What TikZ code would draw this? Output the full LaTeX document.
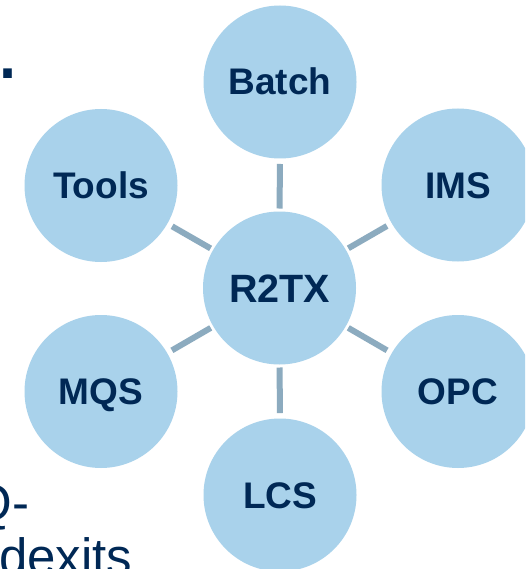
\documentclass[tikz,border=0pt]{standalone}
\usepackage{fontspec}
\setmainfont{Liberation Sans}
\definecolor{bub}{HTML}{A9D2EB}
\definecolor{lnk}{HTML}{8CABBF}
\definecolor{ink}{HTML}{002855}
\tikzset{
  bubble/.style={circle,fill=bub,draw=none,inner sep=0pt,outer sep=0pt,minimum size=153pt,text=ink,text height=26pt,text depth=0pt,font=\fontsize{37}{37}\selectfont\bfseries},
  hub/.style={bubble,text height=28pt,font=\fontsize{39.5}{39.5}\selectfont\bfseries},
  spoke/.style={draw=lnk,line width=6pt,shorten <=3pt,shorten >=5.5pt},
  body/.style={inner sep=0pt,outer sep=0pt,anchor=base west,text=ink,font=\fontsize{51}{51}\selectfont}
}
\begin{document}
\begin{tikzpicture}[x=1pt,y=-1pt]
\useasboundingbox (0,0) rectangle (525,569);
\clip (0,0) rectangle (525,569);
\fill[white] (0,0) rectangle (525,569);
\node[hub] (c) at (279.5,288) {R2TX};
\node[bubble] (batch) at (280,82) {Batch};
\node[bubble] (tools) at (101,185.5) {Tools};
\node[bubble] (ims) at (458,185) {IMS};
\node[bubble] (opc) at (458,391.5) {OPC};
\node[bubble] (mqs) at (101,391.5) {MQS};
\node[bubble] (lcs) at (280,495) {LCS};
\foreach \t in {batch,tools,ims,opc,mqs,lcs} \draw[spoke] (c) -- (\t);
\node[body] (q) at (-27,520) {Q-};
\node[body] (d) at (-1,574) {dexits};
\node[body,font=\fontsize{90}{90}\selectfont] (dot) at (-5,79) {.};
\end{tikzpicture}
\end{document}
